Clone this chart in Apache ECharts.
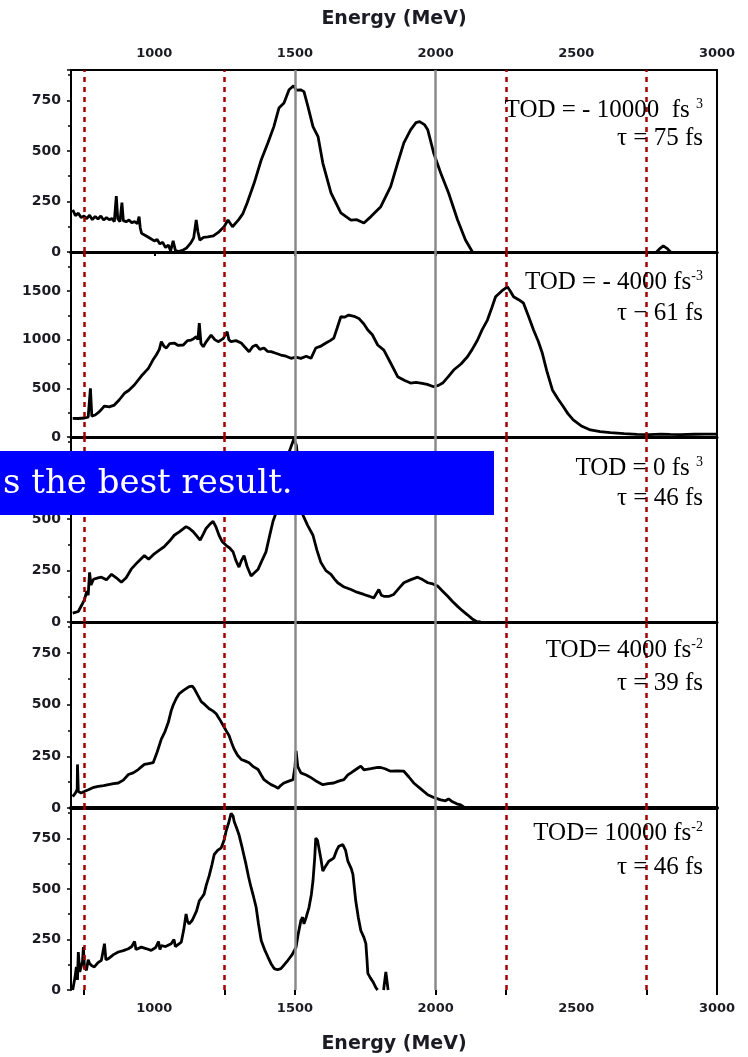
<!DOCTYPE html>
<html><head><meta charset="utf-8">
<script src="https://cdn.jsdelivr.net/npm/echarts@6/dist/echarts.min.js"></script>
<style>html,body{margin:0;padding:0;background:#fff}#c{width:748px;height:1057px}</style>
</head><body><div id="c"></div>
<script>
// ---- data ----
const xTickLabels = [1000, 1500, 2000, 2500, 3000];
const grayLines = [1500, 2000];
const redLines = [750, 1250, 2250, 2750];
const yMax = [900, 1900, 900, 900, 900];
const yInterval = [250, 500, 250, 250, 250];
const todMain = ['TOD = - 10000  fs ', 'TOD = - 4000 fs', 'TOD = 0 fs ', 'TOD= 4000 fs', 'TOD= 10000 fs'];
const todSup = ['3', '-3', '3', '-2', '-2'];
const tauLabels = ['τ = 75 fs', 'τ − 61 fs', 'τ = 46 fs', 'τ = 39 fs', 'τ = 46 fs'];
const bannerText = 's the best result.';

const p1 = [[710,208],[720,180],[730,192],[740,170],[750,178],[760,165],[770,182],[780,160],[790,176],[800,163],[810,178],[820,158],[830,170],[840,160],[850,165],[858,150],[865,277],[870,165],[878,150],[885,244],[890,155],[900,150],[910,158],[920,145],[930,150],[940,140],[946,175],[950,120],[955,92],[970,80],[985,68],[1000,55],[1010,62],[1020,40],[1030,48],[1040,22],[1050,35],[1058,5],[1067,55],[1075,8],[1085,2],[1100,8],[1115,20],[1130,45],[1140,70],[1149,158],[1155,100],[1162,59],[1175,72],[1190,75],[1210,80],[1230,100],[1248,125],[1262,158],[1278,125],[1300,160],[1315,190],[1330,242],[1355,341],[1380,455],[1404,540],[1425,620],[1443,712],[1461,737],[1479,802],[1495,822],[1505,800],[1520,802],[1532,793],[1546,720],[1564,620],[1582,571],[1599,440],[1628,292],[1663,193],[1699,158],[1720,160],[1745,143],[1770,175],[1805,224],[1840,323],[1865,440],[1887,540],[1911,604],[1930,640],[1943,645],[1960,630],[1972,604],[1993,490],[2018,391],[2046,292],[2078,158],[2106,59],[2131,0],[2400,null],[2785,0],[2798,18],[2809,30],[2822,18],[2835,0]];

const p2 = [[710,192],[730,190],[752,195],[765,205],[773,500],[778,215],[790,226],[805,260],[823,318],[840,310],[858,328],[875,380],[894,449],[910,480],[929,534],[954,626],[979,705],[995,790],[1007,842],[1018,900],[1025,979],[1035,930],[1043,914],[1055,960],[1071,965],[1085,940],[1103,945],[1118,990],[1131,996],[1140,1010],[1149,1030],[1155,1000],[1160,1170],[1166,960],[1174,927],[1185,980],[1202,1047],[1215,1000],[1227,979],[1245,1010],[1259,1081],[1265,1000],[1273,979],[1290,990],[1309,965],[1320,930],[1337,876],[1350,930],[1362,945],[1375,900],[1390,914],[1402,880],[1415,876],[1432,860],[1450,842],[1468,830],[1486,808],[1503,820],[1521,808],[1540,830],[1557,808],[1574,914],[1590,930],[1610,965],[1625,990],[1638,1016],[1650,1120],[1663,1235],[1676,1230],[1691,1252],[1710,1240],[1727,1218],[1745,1160],[1759,1098],[1775,1050],[1794,945],[1816,893],[1840,760],[1865,619],[1890,580],[1911,554],[1930,560],[1947,554],[1970,540],[1993,516],[2010,530],[2025,554],[2045,620],[2064,688],[2090,750],[2113,824],[2130,900],[2149,996],[2165,1100],[2184,1201],[2200,1330],[2213,1440],[2235,1500],[2255,1543],[2265,1500],[2277,1440],[2295,1410],[2312,1376],[2330,1240],[2348,1099],[2365,980],[2379,862],[2395,680],[2415,483],[2435,390],[2454,311],[2470,240],[2489,175],[2520,110],[2550,72],[2585,55],[2621,44],[2670,34],[2716,27],[2760,25],[2800,30],[2833,27],[2870,25],[2920,28],[2960,30],[3000,30]];

const p3 = [[710,43],[730,51],[745,90],[752,109],[760,150],[765,130],[770,241],[775,180],[784,208],[800,215],[812,218],[830,205],[848,232],[865,215],[883,193],[900,215],[918,257],[940,290],[965,323],[980,305],[1000,332],[1018,350],[1035,366],[1055,395],[1071,422],[1090,440],[1113,464],[1125,455],[1138,440],[1150,420],[1163,398],[1175,430],[1184,455],[1197,475],[1209,490],[1220,460],[1230,422],[1242,390],[1255,373],[1268,360],[1280,341],[1290,300],[1301,267],[1310,300],[1319,323],[1330,270],[1344,224],[1356,240],[1369,257],[1383,300],[1397,341],[1410,420],[1422,490],[1435,540],[1450,620],[1465,730],[1480,830],[1496,890],[1505,860],[1515,720],[1528,521],[1545,470],[1564,422],[1578,350],[1592,290],[1610,250],[1628,232],[1640,210],[1652,191],[1675,170],[1699,158],[1720,145],[1745,134],[1765,125],[1780,117],[1790,140],[1798,158],[1807,130],[1816,125],[1835,125],[1851,134],[1870,165],[1887,191],[1910,205],[1936,218],[1955,205],[1972,191],[1990,185],[2007,175],[2025,150],[2043,125],[2060,100],[2078,76],[2095,55],[2113,35],[2130,15],[2149,0],[2160,2]];

const p4 = [[710,55],[720,73],[726,90],[727,211],[730,80],[740,73],[755,82],[766,88],[785,100],[801,105],[820,108],[837,113],[855,118],[872,121],[890,135],[908,162],[925,170],[943,186],[955,200],[965,211],[980,215],[996,219],[1010,270],[1025,333],[1038,370],[1050,415],[1060,470],[1067,497],[1078,530],[1089,554],[1105,570],[1124,587],[1135,590],[1142,578],[1155,545],[1167,515],[1180,500],[1195,480],[1208,470],[1220,456],[1232,430],[1245,399],[1255,375],[1266,350],[1275,315],[1284,284],[1296,255],[1309,235],[1322,228],[1337,219],[1352,200],[1369,186],[1380,160],[1390,137],[1402,125],[1415,113],[1428,105],[1440,96],[1450,110],[1461,121],[1478,130],[1493,137],[1500,200],[1504,276],[1510,200],[1521,170],[1540,160],[1557,147],[1578,128],[1599,113],[1618,118],[1638,121],[1655,130],[1674,137],[1688,160],[1699,170],[1715,185],[1734,203],[1745,185],[1752,178],[1770,190],[1794,196],[1805,196],[1820,190],[1840,178],[1865,180],[1887,178],[1905,150],[1922,121],[1945,95],[1972,64],[1995,50],[2018,39],[2035,35],[2046,44],[2060,30],[2075,20],[2089,15],[2100,5]];

const p5 = [[710,0],[718,60],[723,114],[727,50],[730,188],[735,90],[740,82],[745,140],[748,212],[752,110],[759,98],[765,150],[770,131],[778,120],[787,114],[800,135],[812,147],[818,150],[823,229],[828,150],[837,155],[855,175],[872,188],[890,195],[908,204],[920,215],[930,240],[935,200],[954,212],[970,205],[989,196],[1005,210],[1015,240],[1020,200],[1025,220],[1040,215],[1060,229],[1070,250],[1075,215],[1096,237],[1105,300],[1113,376],[1118,340],[1124,327],[1135,345],[1142,343],[1150,390],[1160,441],[1170,460],[1177,474],[1185,520],[1195,564],[1205,620],[1213,670],[1225,690],[1238,703],[1248,740],[1255,784],[1265,830],[1273,874],[1280,860],[1284,833],[1293,800],[1301,768],[1313,700],[1326,621],[1335,560],[1344,507],[1353,460],[1362,409],[1370,330],[1380,245],[1392,200],[1404,163],[1415,130],[1426,106],[1438,100],[1450,106],[1462,125],[1475,147],[1490,175],[1504,212],[1512,280],[1521,343],[1527,360],[1532,327],[1540,360],[1550,409],[1558,470],[1564,539],[1570,650],[1574,751],[1580,740],[1585,735],[1592,650],[1599,588],[1610,615],[1620,637],[1630,645],[1638,653],[1648,690],[1656,711],[1670,719],[1680,690],[1688,637],[1700,600],[1706,572],[1716,441],[1725,360],[1734,294],[1745,260],[1752,229],[1756,150],[1759,82],[1768,60],[1777,41],[1788,10],[1794,0],[1805,null],[1815,0],[1823,90],[1831,0]];

const panels = [p1, p2, p3, p4, p5];

// ---- layout ----
const gridTops = [70, 252, 437, 622, 808];
const gridHeights = [182, 185, 185, 186, 182];
const line1Y = [110, 282, 468, 650, 833];
const line2Y = [138, 313, 498, 683, 867];
const GL = 71, GW = 646;
const labelFont = '"DejaVu Sans"';
const serif = '"Liberation Serif", "Times New Roman", serif';
const plain = v => String(v);

const grids = gridTops.map((t, i) => ({
  left: GL, width: GW, top: t, height: gridHeights[i],
  show: i < 4, borderColor: '#000', borderWidth: 2, backgroundColor: 'transparent'
}));

const X_MIN = 704, X_MAX = 3000;
const hiddenX = (gi, w) => ({
  gridIndex: gi, type: 'value', min: X_MIN, max: X_MAX, position: 'bottom',
  axisLine: { show: true, onZero: false, lineStyle: { color: '#000', width: w } },
  axisTick: { show: false }, axisLabel: { show: false }, splitLine: { show: false }
});

const xAxes = [
  {
    gridIndex: 0, type: 'value', min: X_MIN, max: X_MAX, position: 'top',
    name: 'Energy (MeV)', nameLocation: 'middle', nameGap: 41,
    nameTextStyle: { fontFamily: labelFont, fontWeight: 'bold', fontSize: 19, color: '#1b1b24' },
    axisLine: { show: true, lineStyle: { color: '#000', width: 3 } },
    axisTick: { show: true, inside: true, length: 4, customValues: [750, 1000, 1250, 1500, 2000, 2250, 2750], lineStyle: { color: '#000', width: 2 } },
    axisLabel: { show: true, customValues: xTickLabels, formatter: plain, margin: 10, fontFamily: labelFont, fontWeight: 'bold', fontSize: 13, color: '#1b1b24' },
    splitLine: { show: false }
  },
  hiddenX(0, 3), hiddenX(1, 3), hiddenX(2, 3), hiddenX(3, 4),
  {
    gridIndex: 4, type: 'value', min: X_MIN, max: X_MAX, position: 'bottom',
    name: 'Energy (MeV)', nameLocation: 'middle', nameGap: 45,
    nameTextStyle: { fontFamily: labelFont, fontWeight: 'bold', fontSize: 19, color: '#1b1b24' },
    axisLine: { show: false },
    axisTick: { show: true, inside: false, length: 5, customValues: [750, 1250, 1500, 2000, 2250, 2750, 3000], lineStyle: { color: '#000', width: 2 } },
    axisLabel: { show: true, customValues: xTickLabels, formatter: plain, margin: 12, fontFamily: labelFont, fontWeight: 'bold', fontSize: 13, color: '#1b1b24' },
    splitLine: { show: false }
  }
];
const seriesXAxis = [0, 2, 3, 4, 5];

const yAxes = yMax.map((m, i) => ({
  gridIndex: i, type: 'value', min: 0, max: m, interval: yInterval[i], position: 'left',
  axisLine: { show: true, lineStyle: { color: '#000', width: 2 } },
  axisTick: { show: true, inside: false, length: 4, lineStyle: { color: '#000', width: 1.5 } },
  minorTick: { show: true, splitNumber: 2, length: 3, lineStyle: { color: '#000', width: 1.5 } },
  axisLabel: { show: true, showMaxLabel: false, formatter: plain, margin: 10, fontFamily: labelFont, fontWeight: 'bold', fontSize: 14, color: '#1b1b24' },
  splitLine: { show: false }, minorSplitLine: { show: false }
}));
yAxes.push({
  gridIndex: 4, type: 'value', min: 0, max: yMax[4], position: 'right',
  axisLine: { show: true, lineStyle: { color: '#000', width: 2 } },
  axisTick: { show: false }, axisLabel: { show: false }, splitLine: { show: false }
});

const markLines = {
  silent: true, symbol: ['none', 'none'], label: { show: false }, animation: false,
  data: [
    ...grayLines.map(v => ({ xAxis: v, lineStyle: { color: '#8a8a8a', width: 2.5, type: 'solid' } })),
    ...redLines.map(v => ({ xAxis: v, lineStyle: { color: '#a00000', width: 2.5, type: [5, 5] } }))
  ]
};

const series = panels.map((d, i) => ({
  type: 'line', xAxisIndex: seriesXAxis[i], yAxisIndex: i, data: d,
  showSymbol: false, connectNulls: false, smooth: false,
  lineStyle: { color: '#000', width: 2.8 }, itemStyle: { color: '#000' },
  markLine: markLines, z: 3
}));

const graphics = [];
todMain.forEach((t, i) => {
  graphics.push({
    type: 'text', z: 50,
    style: {
      x: 703, y: line1Y[i], align: 'right', verticalAlign: 'middle',
      text: t + '{s|' + todSup[i] + '}',
      fontFamily: serif, fontSize: 25, fill: '#000',
      rich: { s: { fontFamily: serif, fontSize: 14, fill: '#000', verticalAlign: 'top', padding: [0, 0, 8, 0] } }
    }
  });
  graphics.push({
    type: 'text', z: 50,
    style: {
      x: 703, y: line2Y[i], align: 'right', verticalAlign: 'middle',
      text: tauLabels[i], fontFamily: serif, fontSize: 25, fill: '#000'
    }
  });
});
graphics.push({ type: 'rect', z: 100, shape: { x: 0, y: 451, width: 494, height: 64 }, style: { fill: '#0000ff' } });
graphics.push({
  type: 'text', z: 101,
  style: { x: 3, y: 484, text: bannerText, fill: '#ffffff', fontFamily: '"DejaVu Serif"', fontSize: 34, verticalAlign: 'middle', align: 'left' }
});

const chart = echarts.init(document.getElementById('c'), null, { renderer: 'canvas' });
chart.setOption({
  animation: false,
  backgroundColor: '#ffffff',
  grid: grids, xAxis: xAxes, yAxis: yAxes, series: series, graphic: graphics
});
</script></body></html>
